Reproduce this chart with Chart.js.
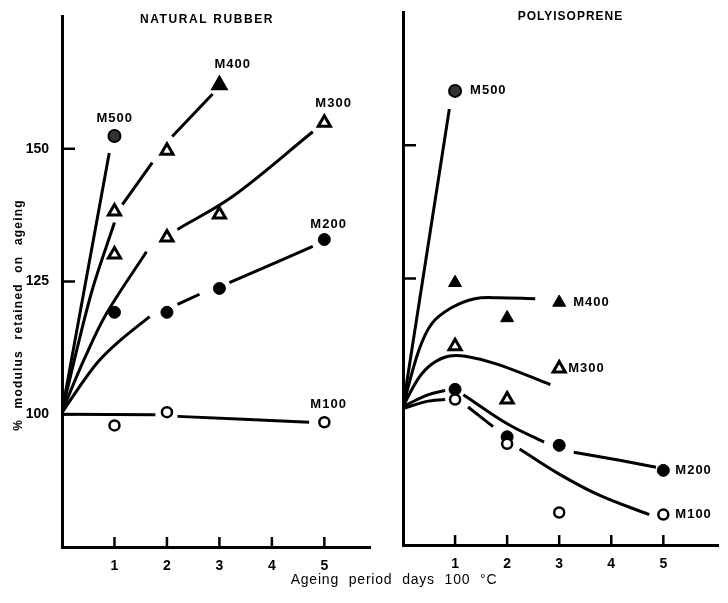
<!DOCTYPE html>
<html><head><meta charset="utf-8">
<script src="https://cdn.jsdelivr.net/npm/chart.js@4/dist/chart.umd.min.js"></script>
<style>
html,body{margin:0;padding:0;background:#fff;}
#wrap{position:relative;width:728px;height:603px;background:#fff;}
canvas{position:absolute;left:0;top:0;}
</style></head><body>
<div id="wrap"><canvas id="nr" width="728" height="603"></canvas><canvas id="pi" width="728" height="603"></canvas></div>
<script>
// ---------- text ----------
const seriesNames = ['M100','M200','M300','M400','M500'];
const panelTitles = ['NATURAL RUBBER','POLYISOPRENE'];
const yAxisTitle = '% modulus retained on ageing';
const xAxisTitle = 'Ageing period days 100 °C';
const xTickDays = [1,2,3,4,5];
const nrYTicks = [100,125,150];
const piYTicks = [125,150];

// ---------- Natural rubber: measured points ----------
const nrM100Days = [1,2,5],   nrM100Vals = [97.9,100.4,98.5];
const nrM200Days = [1,2,3,5], nrM200Vals = [119.2,119.2,123.7,132.9];
const nrM300Days = [1,2,3,5], nrM300Vals = [130.1,133.3,137.6,154.9];
const nrM400Days = [1,2,3],   nrM400Vals = [138.2,149.6,162.0];
const nrM500Days = [1],       nrM500Vals = [152.4];
// Natural rubber: drawn curves (null = break in the pen line)
const nrM100Curve = [[0,100],[1.78,99.9],null,[2.2,99.6],[4.71,98.5]];
const nrM200Curve = [[0,100.3],[0.3,104.7],[0.68,109.8],[1.06,113.5],[1.67,118.4],null,[2.2,120.7],[2.62,122.6],null,[3.19,124.8],[4.78,131.6]];
const nrM300Curve = [[0,100.5],[0.43,110.5],[0.85,119.0],[1.61,130.6],null,[2.2,134.8],[3.25,141.0],[4.78,153.2]];
const nrM400Curve = [[0,100.5],[0.55,122.5],[1.0,136.1],null,[1.15,139.5],[1.72,147.4],null,[2.1,152.3],[2.87,160.3]];
const nrM500Curve = [[0,100.5],[0.9,149.2]];

// ---------- Polyisoprene: measured points ----------
const piM100Days = [1,2,3,5], piM100Vals = [102.3,94.0,81.1,80.7];
const piM200Days = [1,2,3,5], piM200Vals = [104.2,95.3,93.7,89.0];
const piM300Days = [1,2,3],   piM300Vals = [112.3,102.3,108.1];
const piM400Days = [1,2,3],   piM400Vals = [124.2,117.6,120.5];
const piM500Days = [1],       piM500Vals = [160.2];
// Polyisoprene: drawn curves
const piM100Curve = [[0,100.6],[0.44,101.9],[0.81,102.3],null,[1.25,100.9],[1.73,97.2],null,[2.24,93.0],[3.0,88.3],[3.78,84.3],[4.73,80.7]];
const piM200Curve = [[0,101],[0.49,103.2],[0.81,104.0],null,[1.16,103.2],[2.01,97.7],[2.71,94.3],null,[3.28,92.4],[4.16,90.9],[4.86,89.6]];
const piM300Curve = [[0,101],[0.3,106.3],[0.55,108.9],[0.87,110.4],[1.2,110.4],[1.82,108.9],[2.83,105.1]];
const piM400Curve = [[0,101],[0.3,111.4],[0.55,116.5],[0.93,119.5],[1.38,121.2],[1.82,121.4],[2.54,121.2]];
const piM500Curve = [[0,101],[0.89,156.8]];

// ---------- helpers ----------
const FONT = "'Liberation Sans','DejaVu Sans',sans-serif";
function toPts(xs, ys){ return xs.map((x,i)=>({x:x, y:ys[i]})); }
function curvePts(c){
  return c.map((p,i)=>{
    if (p) return {x:p[0], y:p[1]};
    return {x:(c[i-1][0]+c[i+1][0])/2, y:null};
  });
}
function curveDS(c){
  return {type:'scatter', data:curvePts(c), showLine:true, spanGaps:false, pointRadius:0,
    borderColor:'#000', borderWidth:3, tension:0.35, borderCapStyle:'butt', order:2};
}
const openCircle  = {pointStyle:'circle', pointRadius:5, pointBackgroundColor:'#fff', pointBorderColor:'#000', pointBorderWidth:2.5};
const fillCircle  = {pointStyle:'circle', pointRadius:6, pointBackgroundColor:'#000', pointBorderColor:'#000', pointBorderWidth:1};
const openTri     = {pointStyle:'triangle', pointRadius:7, pointBackgroundColor:'#fff', pointBorderColor:'#000', pointBorderWidth:3};
const fillTri     = {pointStyle:'triangle', pointRadius:7.5, pointBackgroundColor:'#000', pointBorderColor:'#000', pointBorderWidth:1};
function markDS(label, xs, ys, style){
  return Object.assign({type:'scatter', label:label, data:toPts(xs,ys), showLine:false, order:1}, style);
}

const decor = {
  id:'decor',
  afterDraw(chart, args, o){
    const ctx = chart.ctx, xs = chart.scales.x, ys = chart.scales.y;
    ctx.save();
    ctx.strokeStyle = '#000'; ctx.lineWidth = 2.5;
    o.yTicks.forEach(v=>{ const py = ys.getPixelForValue(v);
      ctx.beginPath(); ctx.moveTo(xs.left, py); ctx.lineTo(xs.left + 13, py); ctx.stroke(); });
    o.xTicks.forEach(v=>{ const px = xs.getPixelForValue(v);
      ctx.beginPath(); ctx.moveTo(px, ys.bottom); ctx.lineTo(px, ys.bottom - 10); ctx.stroke(); });
    ctx.fillStyle = '#000'; ctx.textBaseline = 'middle';
    ctx.font = 'bold 13px ' + FONT;
    if ('letterSpacing' in ctx) ctx.letterSpacing = '1px';
    o.labels.forEach(l=>{
      const meta = chart.getDatasetMeta(l.ds); const el = meta.data[l.idx];
      ctx.textAlign = l.align; ctx.fillText(l.text, el.x + l.dx, el.y + l.dy);
    });
    ctx.font = 'bold 12px ' + FONT;
    if ('letterSpacing' in ctx) ctx.letterSpacing = o.titleSpacing;
    ctx.textAlign = 'center';
    ctx.fillText(o.title, (chart.chartArea.left + chart.chartArea.right)/2 + o.titleDx, o.titleY);
    if (o.yTitle){
      ctx.save(); ctx.translate(o.yTitle.x, o.yTitle.y); ctx.rotate(-Math.PI/2);
      ctx.font = 'bold 12px ' + FONT;
      if ('letterSpacing' in ctx) ctx.letterSpacing = '1.2px';
      if ('wordSpacing' in ctx) ctx.wordSpacing = '6px';
      ctx.fillText(yAxisTitle, 0, 0); ctx.restore();
    }
    if (o.xTitle){
      ctx.font = '14px ' + FONT;
      if ('letterSpacing' in ctx) ctx.letterSpacing = '0.8px';
      if ('wordSpacing' in ctx) ctx.wordSpacing = '5px';
      ctx.fillText(xAxisTitle, o.xTitle.x, o.xTitle.y);
    }
    ctx.restore();
  }
};

function makeChart(id, datasets, p){
  return new Chart(document.getElementById(id), {
    data:{datasets:datasets},
    plugins:[decor],
    options:{
      responsive:false, animation:false, devicePixelRatio:1,
      layout:{padding:{top:p.top, right:p.right, left:0, bottom:0}},
      plugins:{legend:{display:false}, tooltip:{enabled:false}, decor:p.decor},
      scales:{
        x:{type:'linear', min:0, max:p.xmax,
          afterBuildTicks:s=>{ s.ticks = xTickDays.map(v=>({value:v})); },
          afterFit:s=>{ s.height = p.xh; },
          grid:{display:false}, border:{display:true, width:3, color:'#000'},
          ticks:{color:'#000', padding:3, font:{size:14, weight:'bold', family:FONT}}},
        y:{type:'linear', min:75, max:175,
          afterBuildTicks:s=>{ s.ticks = p.yTicks.map(v=>({value:v})); },
          afterFit:s=>{ s.width = p.yw; },
          grid:{display:false}, border:{display:true, width:3, color:'#000'},
          ticks:{display:p.yLabels, color:'#000', padding:5, font:{size:14, weight:'bold', family:FONT}}}
      }
    }
  });
}

// Natural rubber
const nrSets = [
  curveDS(nrM100Curve), curveDS(nrM200Curve), curveDS(nrM300Curve), curveDS(nrM400Curve), curveDS(nrM500Curve),
  markDS(seriesNames[0], nrM100Days, nrM100Vals, openCircle),
  markDS(seriesNames[1], nrM200Days, nrM200Vals, fillCircle),
  markDS(seriesNames[2], nrM300Days, nrM300Vals, openTri),
  markDS(seriesNames[3], nrM400Days, nrM400Vals, Object.assign({}, openTri, {pointBackgroundColor:['#fff','#fff','#000'], pointRadius:[7,7,7.5]})),
  markDS(seriesNames[4], nrM500Days, nrM500Vals, Object.assign({}, fillCircle, {pointBackgroundColor:'#333', pointBorderWidth:2}))
];
makeChart('nr', nrSets, {top:16, right:358, xmax:5.87, xh:56, yw:62, yTicks:nrYTicks, yLabels:true,
  decor:{yTicks:nrYTicks, xTicks:xTickDays, title:panelTitles[0], titleDx:-9, titleY:20, titleSpacing:'1.6px',
    yTitle:{x:19, y:315}, xTitle:{x:394, y:580},
    labels:[
      {ds:5, idx:2, text:seriesNames[0], dx:-14, dy:-18, align:'left'},
      {ds:6, idx:3, text:seriesNames[1], dx:-14, dy:-15, align:'left'},
      {ds:7, idx:3, text:seriesNames[2], dx:-9, dy:-19, align:'left'},
      {ds:8, idx:2, text:seriesNames[3], dx:-5, dy:-21, align:'left'},
      {ds:9, idx:0, text:seriesNames[4], dx:-18, dy:-18, align:'left'}
    ]}});

// Polyisoprene
const piSets = [
  curveDS(piM100Curve), curveDS(piM200Curve), curveDS(piM300Curve), curveDS(piM400Curve), curveDS(piM500Curve),
  markDS(seriesNames[0], piM100Days, piM100Vals, openCircle),
  markDS(seriesNames[1], piM200Days, piM200Vals, fillCircle),
  markDS(seriesNames[2], piM300Days, piM300Vals, openTri),
  markDS(seriesNames[3], piM400Days, piM400Vals, fillTri),
  markDS(seriesNames[4], piM500Days, piM500Vals, Object.assign({}, fillCircle, {pointBackgroundColor:'#333', pointBorderWidth:2}))
];
makeChart('pi', piSets, {top:12, right:6, xmax:6.05, xh:58, yw:403, yTicks:piYTicks, yLabels:false,
  decor:{yTicks:piYTicks, xTicks:xTickDays, title:panelTitles[1], titleDx:10, titleY:17, titleSpacing:'1px',
    labels:[
      {ds:5, idx:3, text:seriesNames[0], dx:12, dy:0, align:'left'},
      {ds:6, idx:3, text:seriesNames[1], dx:12, dy:0, align:'left'},
      {ds:7, idx:2, text:seriesNames[2], dx:9, dy:0, align:'left'},
      {ds:8, idx:2, text:seriesNames[3], dx:14, dy:0, align:'left'},
      {ds:9, idx:0, text:seriesNames[4], dx:15, dy:0, align:'left'}
    ]}});
</script>
</body></html>
